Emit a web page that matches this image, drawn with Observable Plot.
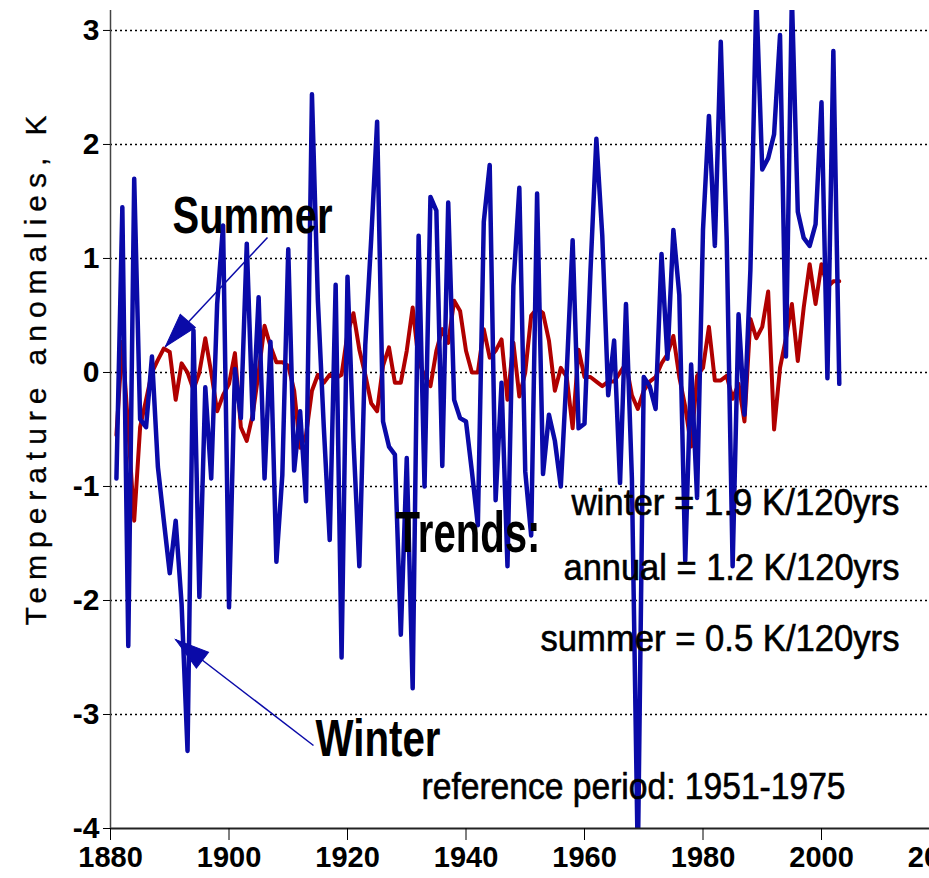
<!DOCTYPE html>
<html>
<head>
<meta charset="utf-8">
<script src="https://cdn.jsdelivr.net/npm/d3@7"></script>
<script src="https://cdn.jsdelivr.net/npm/@observablehq/plot@0.6"></script>
<style>
  html, body { margin: 0; padding: 0; background: #fff; overflow: hidden; }
  #chart { width: 960px; }
</style>
</head>
<body>
<div id="chart"></div>
<script>
// ---- data ----
const years = d3.range(1881, 2004);
const winter = [
  -0.93, 1.45, -2.4, 1.7, -0.41, -0.48, 0.14, -0.83, -1.3, -1.76,
  -1.3, -2.03, -3.32, 0.37, -1.97, -0.13, -0.93, 0.6, 1.29, -2.06,
  0.03, -0.4, 1.13, -0.41, 0.66, -0.93, 0.27, -1.66, -0.9, 1.08,
  -0.86, -0.34, -1.13, 2.44, 0.63, -0.48, -1.47, 0.77, -2.5, 0.84,
  -0.59, -1.7, 0.24, 1.17, 2.2, -0.43, -0.65, -0.72, -2.3, -0.75,
  -2.77, 1.2, -1.0, 1.54, 1.42, -0.82, 1.49, -0.24, -0.4, -0.43,
  -0.87, -1.34, 1.32, 1.82, -1.12, -0.09, -1.7, 0.76, 1.62, -0.87,
  -1.43, 1.57, -0.89, -0.37, -0.6, -1.0, 0.0, 1.16, -0.49, -0.45,
  0.88, 2.05, 1.2, -0.2, 0.28, -0.97, 0.6, -0.93, -4.3, -0.04,
  -0.12, -0.32, 1.04, 0.12, 1.25, 0.68, -1.65, 0.07, -1.1, 1.25,
  2.25, 1.11, 2.9, 1.17, -1.7, 0.51, -0.37, 0.9, 3.3, 1.78,
  1.88, 2.09, 2.96, 0.14, 3.3, 1.41, 1.18, 1.11, 1.3, 2.37,
  -0.05, 2.82, -0.1
];
const summer = [
  -0.55, 0.27, -0.5, -1.3, -0.48, -0.24, 0.0, 0.11, 0.21, 0.18,
  -0.24, 0.08, 0.0, -0.15, 0.0, 0.3, 0.0, -0.34, -0.2, -0.1,
  0.17, -0.48, -0.6, -0.37, 0.0, 0.41, 0.23, 0.09, 0.09, 0.06,
  -0.16, -0.66, -0.55, -0.16, -0.02, -0.09, -0.02, -0.05, -0.02, 0.34,
  0.52, 0.2, -0.02, -0.27, -0.34, 0.06, 0.22, -0.09, -0.09, 0.19,
  0.57, 0.1, -0.03, -0.12, 0.19, 0.38, 0.26, 0.63, 0.54, 0.19,
  0.0, 0.0, 0.38, 0.13, 0.19, 0.29, -0.24, 0.26, -0.21, 0.0,
  0.5, 0.56, 0.52, 0.28, -0.16, 0.04, -0.04, -0.49, 0.2, -0.04,
  -0.04, -0.08, -0.12, -0.08, -0.08, 0.0, 0.08, -0.2, -0.32, -0.16,
  -0.08, -0.04, 0.08, 0.16, 0.32, -0.04, -0.3, -0.65, -0.03, 0.04,
  0.4, -0.07, -0.07, -0.03, -0.23, -0.1, -0.43, 0.47, 0.3, 0.4,
  0.71, -0.5, 0.04, 0.3, 0.6, 0.1, 0.57, 0.95, 0.6, 0.95,
  0.75, 0.8, 0.8
];
const xTicks = [1880, 1900, 1920, 1940, 1960, 1980, 2000, 2020];
const yTicks = [3, 2, 1, 0, -1, -2, -3, -4];
const gridValues = [3, 2, 1, 0, -1, -2, -3];
const yLabel = "Temperature anomalies, K";

// annotation texts (anchored in data coordinates)
const noteText  = ["Summer", "Winter", "Trends:", "winter = 1.9 K/120yrs", "annual = 1.2 K/120yrs", "summer = 0.5 K/120yrs", "reference period: 1951-1975"];
const noteYear  = [1890.46, 1914.6, 1928.1, 2013.16, 2013.16, 2013.16, 1932.49];
const noteValue = [1.368, -3.22, -1.412, -1.149, -1.719, -2.342, -3.64];
const noteKind  = ["label", "label", "head", "trend", "trend", "trend", "ref"];

// arrows: tail -> tip
const arrowName  = ["Summer", "Winter"];
const arrowYear1 = [1906.5, 1914.26];
const arrowVal1  = [1.184, -3.272];
const arrowYear2 = [1889.28, 1890.97];
const arrowVal2  = [0.228, -2.342];

// ---- build ----
const series = years.map((y, i) => ({year: y, winter: winter[i], summer: summer[i]}));
const notes = noteText.map((t, i) => ({text: t, year: noteYear[i], value: noteValue[i], kind: noteKind[i]}));
const arrows = arrowName.map((n, i) => ({name: n, x1: arrowYear1[i], y1: arrowVal1[i], x2: arrowYear2[i], y2: arrowVal2[i],
  angle: n === "Summer" ? 221 : -52.5}));

const BLUE = "#0a0aa8", RED = "#b00000";
const FONT = "'Liberation Sans', Arial, Helvetica, sans-serif";

const arrowHead = {
  draw(context) {
    context.moveTo(0, 0);
    context.lineTo(-10, 34);
    context.lineTo(10, 34);
    context.closePath();
  }
};

const chart = Plot.plot({
  width: 960,
  height: 878,
  marginLeft: 110,
  marginRight: 20.5,
  marginTop: 10,
  marginBottom: 50,
  style: {fontFamily: FONT, background: "#fff", color: "#000", overflow: "visible"},
  x: {domain: [1880, 2020]},
  y: {domain: [-4, 3.175]},
  marks: [
    Plot.ruleY(gridValues, {stroke: "#000", strokeWidth: 1.6, strokeDasharray: "2,3"}),
    Plot.line(series, {x: "year", y: "summer", stroke: RED, strokeWidth: 4, clip: true}),
    Plot.line(series, {x: "year", y: "winter", stroke: BLUE, strokeWidth: 4.5, clip: true}),
    Plot.ruleY([-4], {stroke: "#222", strokeWidth: 2}),
    Plot.ruleX([1880], {stroke: "#444", strokeWidth: 1.5}),
    Plot.axisY({ticks: yTicks, tickSize: 7, tickPadding: 4, fontSize: 30, fontWeight: "bold", tickFormat: d => String(d), label: null}),
    Plot.axisX({ticks: xTicks, tickSize: 12, tickPadding: 6, fontSize: 29, fontWeight: "bold", tickFormat: d => String(d), label: null}),
    Plot.link(arrows, {x1: "x1", y1: "y1", x2: "x2", y2: "y2", stroke: BLUE, strokeWidth: 1.5}),
    Plot.dot(arrows, {x: "x2", y: "y2", symbol: arrowHead, rotate: "angle", fill: BLUE, stroke: BLUE, strokeWidth: 1}),
    Plot.text(notes.filter(d => d.kind === "label"), {x: "year", y: "value", text: "text", textAnchor: "start", fontSize: 52, fontWeight: "bold", fill: "#000"}),
    Plot.text(notes.filter(d => d.kind === "head"), {x: "year", y: "value", text: "text", textAnchor: "start", fontSize: 58, fontWeight: "bold", fill: "#000"}),
    Plot.text(notes.filter(d => d.kind === "trend"), {x: "year", y: "value", text: "text", textAnchor: "end", fontSize: 36, fill: "#000", stroke: "#000", strokeWidth: 0.6}),
    Plot.text(notes.filter(d => d.kind === "ref"), {x: "year", y: "value", text: "text", textAnchor: "start", fontSize: 36, fill: "#000", stroke: "#000", strokeWidth: 0.6}),
    Plot.text([yLabel], {frameAnchor: "left", rotate: -90, dx: -74, dy: -49, fontSize: 30, textAnchor: "middle", fill: "#000", stroke: "#000", strokeWidth: 0.3})
  ]
});
document.getElementById("chart").appendChild(chart);

// fit text widths to the reference lettering (condensed)
const widths = {
  "Summer": 160, "Winter": 125, "Trends:": 145,
  "winter = 1.9 K/120yrs": 328, "annual = 1.2 K/120yrs": 336, "summer = 0.5 K/120yrs": 359,
  "reference period: 1951-1975": 424, "Temperature anomalies, K": 510
};
d3.select(chart).selectAll("text").each(function() {
  const t = this.textContent;
  if (widths[t]) {
    this.setAttribute("textLength", widths[t]);
    this.setAttribute("lengthAdjust", t === yLabel ? "spacing" : "spacingAndGlyphs");
  }
});
</script>
</body>
</html>
